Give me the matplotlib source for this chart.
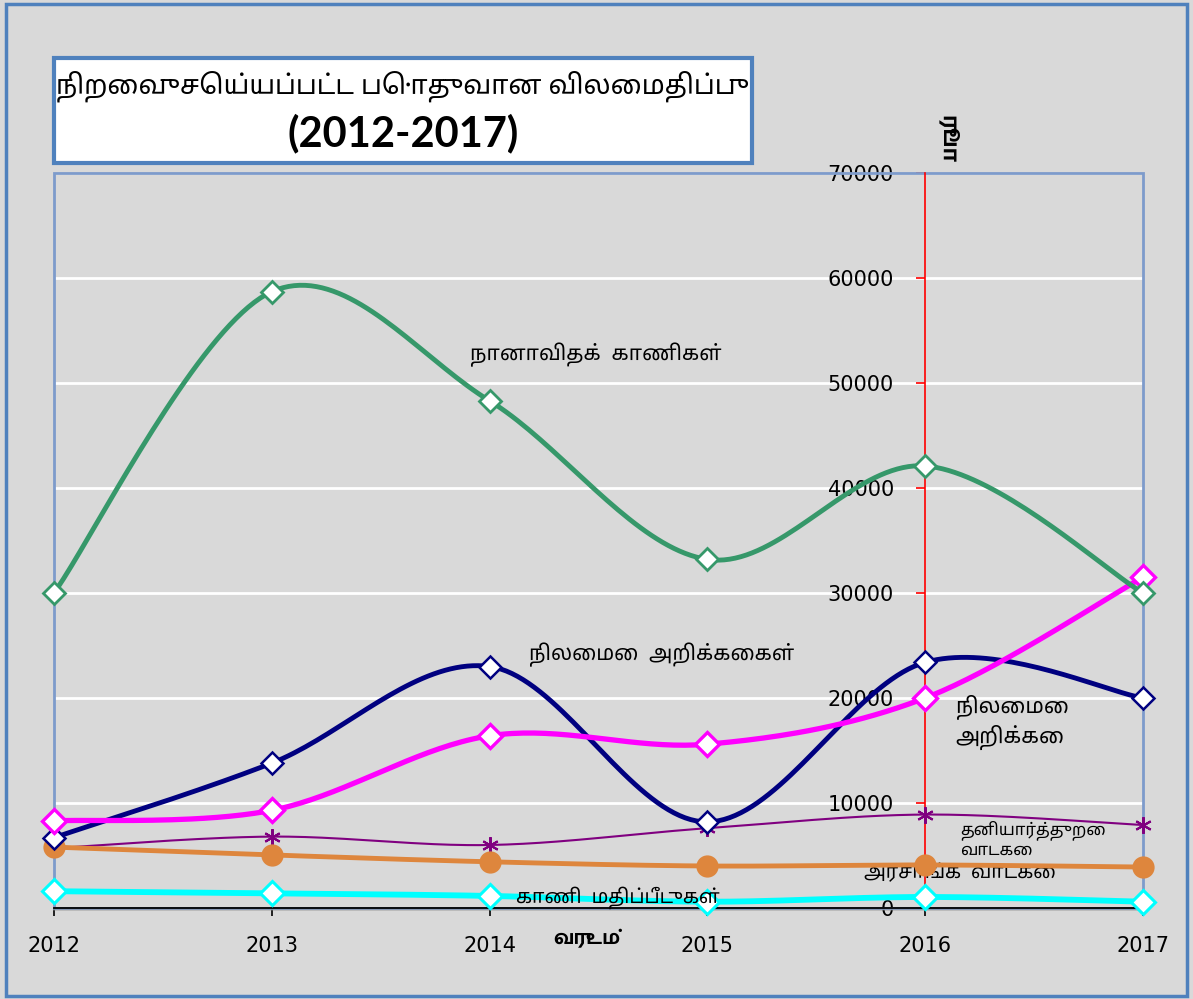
import numpy as np
import matplotlib
matplotlib.use('Agg')
import matplotlib.pyplot as plt
import matplotlib.patheffects as pe
from matplotlib.patches import Rectangle

# data (rupees)
years = [2012, 2013, 2014, 2015, 2016, 2017]
misc_lands = [30000, 58700, 48300, 33200, 42100, 30000]
status_reports = [6700, 13800, 23000, 8200, 23400, 20000]
status_report = [8300, 9300, 16400, 15600, 20000, 31500]
private_rent = [5700, 6800, 6000, 7600, 8900, 7900]
govt_rent = [5800, 5050, 4400, 4000, 4100, 3900]
land_valuations = [1600, 1400, 1150, 600, 1050, 600]

title_line1 = 'நிறைவுசெய்யப்பட்ட பொதுவான விலைமதிப்பு'
title_line2 = '(2012-2017)'
x_label = 'வருடம்'
y_label = 'ரூபா'

TAMIL = ['Noto Sans Tamil', 'DejaVu Sans']
TAMIL_BOLD = ['Hind Madurai', 'DejaVu Sans']
BG = '#d9d9d9'
BORDER = '#4f81bd'


def smooth(xs, ys, n=40):
    """Excel-like smoothed line: Bezier segments with Catmull-Rom control points."""
    pts = np.column_stack([xs, ys]).astype(float)
    P = np.vstack([pts[0], pts, pts[-1]])
    segs = []
    for i in range(1, len(P) - 2):
        p0, p1, p2, p3 = P[i - 1], P[i], P[i + 1], P[i + 2]
        c1 = p1 + (p2 - p0) / 6
        c2 = p2 - (p3 - p1) / 6
        t = np.linspace(0, 1, n)[:, None]
        segs.append((1 - t) ** 3 * p1 + 3 * (1 - t) ** 2 * t * c1
                    + 3 * (1 - t) * t ** 2 * c2 + t ** 3 * p2)
    curve = np.vstack(segs)
    return curve[:, 0], curve[:, 1]


fig = plt.figure(figsize=(11.93, 9.99), dpi=100, facecolor=BG)

# outer chart border
fig.patches.append(Rectangle((6 / 1193, 1 - 996 / 999), 1181 / 1193, 992 / 999,
                             transform=fig.transFigure, fill=False,
                             edgecolor=BORDER, lw=2.5, zorder=0))

ax = fig.add_axes([54 / 1193, 1 - 908 / 999, 1089 / 1193, 735 / 999])
ax.set_facecolor(BG)
ax.set_xlim(2012, 2017)
ax.set_ylim(0, 70000)

# plot area border
ax.add_patch(Rectangle((0, 0), 1, 1, transform=ax.transAxes, fill=False,
                       edgecolor='#7d9bcb', lw=2, zorder=1, clip_on=False))

ax.set_yticks(range(0, 70001, 10000))
ax.yaxis.grid(True, color='white', lw=2)
ax.set_axisbelow(True)

for s in ['top', 'right']:
    ax.spines[s].set_visible(False)
ax.spines['left'].set_position(('data', 2016))
ax.spines['left'].set_color('red')
ax.spines['left'].set_linewidth(1.2)
ax.spines['left'].set_zorder(2)
ax.spines['bottom'].set_color('black')
ax.spines['bottom'].set_linewidth(1.3)
ax.spines['bottom'].set_path_effects([
    pe.SimpleLineShadow(offset=(0, -1.5), shadow_color='#888888', alpha=0.4),
    pe.Normal()])

ax.set_xticks(years)
ax.set_xticklabels([str(y) for y in years])
ax.tick_params(axis='x', direction='out', length=6, width=1.2, color='black',
               labelsize=15, pad=14)
ax.tick_params(axis='y', direction='out', length=6.5, width=1.2, color='red',
               labelsize=15, pad=16)

series = [
    (land_valuations, '#00ffff', 4.2, 'D', 12, 'white', 2.2),
    (private_rent, '#800080', 1.5, (6, 2, 0), 12, '#800080', 1.5),
    (govt_rent, '#de863d', 3.5, 'o', 15, '#de863d', 1.0),
    (status_reports, '#000080', 3.5, 'D', 11, 'white', 1.8),
    (status_report, '#ff00ff', 3.8, 'D', 12, 'white', 2.4),
    (misc_lands, '#36986a', 3.5, 'D', 11, 'white', 2.0),
]
z = 3
for vals, col, lw, mk, ms, face, mew in series:
    sx, sy = smooth(years, vals)
    ax.plot(sx, sy, color=col, lw=lw, solid_capstyle='round', zorder=z,
            clip_on=False)
    ax.plot(years, vals, ls='none', marker=mk, ms=ms, mfc=face, mec=col,
            mew=mew, zorder=z + 0.5, clip_on=False)
    z += 1

# series labels written on the plot
ax.text(2013.91, 52700, 'நானாவிதக்  காணிகள்', family=TAMIL, fontsize=15,
        va='center', ha='left')
ax.text(2014.18, 24100, 'நிலைமை  அறிக்கைகள்', family=TAMIL, fontsize=15,
        va='center', ha='left')
ax.text(2016.14, 17700, 'நிலைமை\nஅறிக்கை', family=TAMIL, fontsize=15.5,
        va='center', ha='left', linespacing=1.3)
ax.text(2016.16, 6500, 'தனியார்த்துறை\nவாடகை', family=TAMIL, fontsize=12,
        va='center', ha='left', linespacing=1.2)
ax.text(2015.72, 3330, 'அரசாங்க  வாடகை', family=TAMIL, fontsize=14,
        va='center', ha='left')
ax.text(2014.12, 950, 'காணி  மதிப்பீடுகள்', family=TAMIL, fontsize=14,
        va='center', ha='left', zorder=20)
ax.text(2014.29, -2900, x_label, family=TAMIL_BOLD, fontsize=14,
        fontweight='bold', va='center', ha='left')
ax.text(2016.105, 73200, y_label, family=TAMIL_BOLD, fontsize=16,
        fontweight='bold', va='center', ha='center', rotation=-90)

# title box
fig.patches.append(Rectangle((54 / 1193, 1 - 163 / 999), 698 / 1193, 105 / 999,
                             transform=fig.transFigure, facecolor='white',
                             edgecolor=BORDER, lw=3, zorder=5))
fig.text(403 / 1193, 1 - 86 / 999, title_line1, family=TAMIL, fontsize=19.3,
         ha='center', va='center', zorder=6)
fig.text(403 / 1193, 1 - 133 / 999, title_line2, family=['Lato', 'DejaVu Sans'],
         fontsize=30, fontweight='bold', ha='center', va='center', zorder=6)

fig.savefig('out.png', dpi=100, facecolor=BG)
